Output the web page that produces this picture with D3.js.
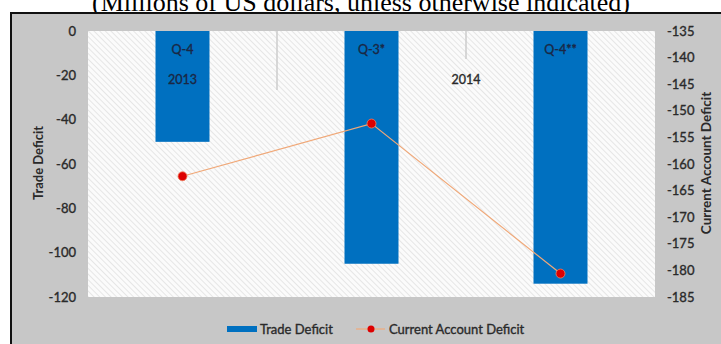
<!DOCTYPE html>
<html>
<head>
<meta charset="utf-8">
<script src="https://cdn.jsdelivr.net/npm/d3@7"></script>
<style>
  html, body { margin: 0; padding: 0; background: #fff; }
  svg { display: block; }
  .ui { paint-order: stroke; stroke-width: 0.35px; }
</style>
</head>
<body>
<svg id="chart" width="721" height="344"></svg>
<script>
// Quarterly trade and current account deficits
const quarters = ["Q-4", "Q-3*", "Q-4**"];
const years = ["2013", "2014"];
const tradeDeficit = [-50, -105, -114];
const currentAccountDeficit = [-162.3, -152.4, -180.6];
const leftTicks = [0, -20, -40, -60, -80, -100, -120];
const rightTicks = [-135, -140, -145, -150, -155, -160, -165, -170, -175, -180, -185];

const svg = d3.select("#chart");
const W = 721, H = 344;
const plot = { left: 88, right: 655, top: 31, bottom: 297 };
const uiFont = "Lato, 'Open Sans', sans-serif";
const textCol = "#2a2a2a";
const fmt = d => String(d); // plain hyphen-minus

// Title (partly cropped by the top edge)
svg.append("text")
  .attr("x", 361).attr("y", 10.5)
  .attr("text-anchor", "middle")
  .attr("font-family", "'Liberation Serif', 'Times New Roman', serif")
  .attr("font-size", 26)
  .attr("fill", "#000")
  .text("(Millions of US dollars, unless otherwise indicated)");

// Chart frame
svg.append("rect")
  .attr("x", 11).attr("y", 13)
  .attr("width", W).attr("height", H)
  .attr("fill", "#c7c7c7")
  .attr("stroke", "#111").attr("stroke-width", 2);

// Hatched plot background
const defs = svg.append("defs");
const pat = defs.append("pattern")
  .attr("id", "hatch")
  .attr("patternUnits", "userSpaceOnUse")
  .attr("width", 4).attr("height", 4)
  .attr("patternTransform", "rotate(-45)");
pat.append("rect").attr("width", 4).attr("height", 4).attr("fill", "#fbfbfb");
pat.append("line").attr("x1", 0).attr("y1", 0).attr("x2", 0).attr("y2", 4)
  .attr("stroke", "#e0e0e0").attr("stroke-width", 1.5);

svg.append("rect")
  .attr("x", plot.left).attr("y", plot.top)
  .attr("width", plot.right - plot.left).attr("height", plot.bottom - plot.top)
  .attr("fill", "url(#hatch)");

// Scales
const x = d3.scaleBand().domain(quarters).range([plot.left, plot.right]).paddingInner(0).paddingOuter(0);
const yL = d3.scaleLinear().domain([0, -120]).range([plot.top, plot.bottom]);
const yR = d3.scaleLinear().domain([-135, -185]).range([plot.top, plot.bottom]);
const barW = 54;

// Category group dividers
const dividers = [
  { at: 1, len: 59 },
  { at: 2, len: 28 }
];
svg.selectAll(".divider").data(dividers).enter().append("line")
  .attr("x1", d => plot.left + x.step() * d.at)
  .attr("x2", d => plot.left + x.step() * d.at)
  .attr("y1", plot.top).attr("y2", d => plot.top + d.len)
  .attr("stroke", "#cdcdcd").attr("stroke-width", 1.5);

// Bars
svg.selectAll(".bar").data(quarters).enter().append("rect")
  .attr("x", d => x(d) + x.bandwidth() / 2 - barW / 2)
  .attr("y", yL(0))
  .attr("width", barW)
  .attr("height", (d, i) => yL(tradeDeficit[i]) - yL(0))
  .attr("fill", "#0070c0");

// Quarter labels
svg.selectAll(".qlab").data(quarters).enter().append("text")
  .attr("class", "ui")
  .attr("x", d => x(d) + x.bandwidth() / 2)
  .attr("y", 53.5)
  .attr("text-anchor", "middle")
  .attr("font-family", uiFont).attr("font-size", 12.5)
  .attr("fill", "#1a2744").attr("stroke", "#1a2744")
  .text(d => d);

// Year labels
const yearPos = [x(quarters[0]) + x.bandwidth() / 2, plot.left + x.step() * 2];
svg.selectAll(".ylab").data(years).enter().append("text")
  .attr("class", "ui")
  .attr("x", (d, i) => yearPos[i])
  .attr("y", 83.5)
  .attr("text-anchor", "middle")
  .attr("font-family", uiFont).attr("font-size", 12.5)
  .attr("fill", (d, i) => i === 0 ? "#1a2744" : "#2a2a2a")
  .attr("stroke", (d, i) => i === 0 ? "#1a2744" : "#2a2a2a")
  .text(d => d);

// Current account line
const line = d3.line()
  .x((d, i) => x(quarters[i]) + x.bandwidth() / 2)
  .y(d => yR(d));
svg.append("path")
  .datum(currentAccountDeficit)
  .attr("d", line)
  .attr("fill", "none")
  .attr("stroke", "#f0a878").attr("stroke-width", 1.2);

svg.selectAll(".pt").data(currentAccountDeficit).enter().append("circle")
  .attr("cx", (d, i) => x(quarters[i]) + x.bandwidth() / 2)
  .attr("cy", d => yR(d))
  .attr("r", 4.5)
  .attr("fill", "#dd0000")
  .attr("stroke", "#f08060").attr("stroke-width", 0.8);

// Axes
const axL = d3.axisLeft(yL).tickValues(leftTicks).tickFormat(fmt).tickSize(0).tickPadding(12);
const gL = svg.append("g").attr("transform", `translate(${plot.left},0)`).call(axL);
gL.select(".domain").remove();
gL.selectAll("text")
  .attr("class", "ui")
  .attr("font-family", uiFont).attr("font-size", 13).attr("fill", textCol).attr("stroke", textCol);

const axR = d3.axisRight(yR).tickValues(rightTicks).tickFormat(fmt).tickSize(0).tickPadding(12);
const gR = svg.append("g").attr("transform", `translate(${plot.right},0)`).call(axR);
gR.select(".domain").remove();
gR.selectAll("text")
  .attr("class", "ui")
  .attr("font-family", uiFont).attr("font-size", 13).attr("fill", textCol).attr("stroke", textCol);

// Axis titles
svg.append("text")
  .attr("transform", "translate(43,163) rotate(-90)")
  .attr("text-anchor", "middle")
  .attr("font-family", uiFont).attr("font-size", 13).attr("font-weight", "bold")
  .attr("fill", textCol)
  .text("Trade Deficit");

svg.append("text")
  .attr("transform", "translate(711,163) rotate(-90)")
  .attr("text-anchor", "middle")
  .attr("font-family", uiFont).attr("font-size", 13.5).attr("font-weight", "bold")
  .attr("fill", textCol)
  .text("Current Account Deficit");

// Legend
const lg = svg.append("g");
lg.append("rect").attr("x", 227).attr("y", 326).attr("width", 30).attr("height", 6).attr("fill", "#0070c0");
lg.append("text").attr("class", "ui").attr("x", 260).attr("y", 333.5)
  .attr("font-family", uiFont).attr("font-size", 13).attr("fill", textCol).attr("stroke", textCol)
  .text("Trade Deficit");
lg.append("line").attr("x1", 356).attr("x2", 385).attr("y1", 329).attr("y2", 329)
  .attr("stroke", "#f0a878").attr("stroke-width", 1.2);
lg.append("circle").attr("cx", 371).attr("cy", 329).attr("r", 3.5)
  .attr("fill", "#dd0000");
lg.append("text").attr("class", "ui").attr("x", 389).attr("y", 333.5)
  .attr("font-family", uiFont).attr("font-size", 13).attr("fill", textCol).attr("stroke", textCol)
  .text("Current Account Deficit");
</script>
</body>
</html>
